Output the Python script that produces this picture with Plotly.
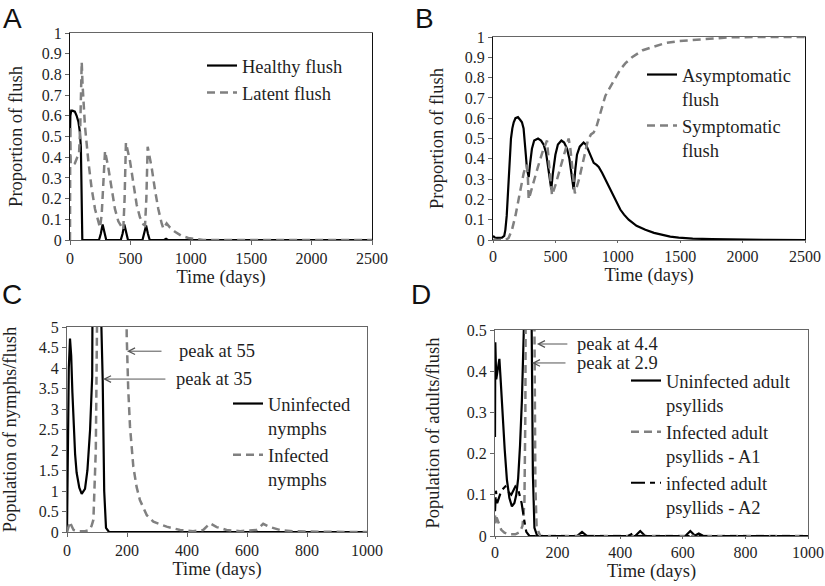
import plotly.graph_objects as go

# ---------------- Panel A ----------------
a_t_healthy = [0, 3, 10, 20, 40, 55, 70, 82, 90, 95, 99, 102, 240, 255, 270, 285, 300,
               420, 435, 450, 465, 480, 600, 615, 630, 645, 660, 780, 795, 810, 2500]
a_healthy = [0.5, 0.6, 0.625, 0.625, 0.62, 0.6, 0.57, 0.52, 0.45, 0.3, 0.1, 0, 0, 0.03, 0.075, 0.03, 0,
             0, 0.03, 0.075, 0.03, 0, 0, 0.03, 0.07, 0.03, 0, 0, 0.006, 0, 0]
a_t_latent = [0, 2, 6, 20, 40, 60, 75, 85, 92, 97, 104, 124, 152, 179, 207, 235, 248, 262, 275, 290,
              317, 345, 372, 400, 428, 441, 452, 463, 497, 524, 552, 579, 607, 621, 632, 643,
              676, 704, 731, 759, 773, 800, 828, 869, 924, 979, 1048, 1103, 2500]
a_latent = [0, 0.55, 0.37, 0.36, 0.37, 0.4, 0.42, 0.55, 0.75, 0.86, 0.75, 0.55, 0.38, 0.25, 0.15, 0.08, 0.06, 0.12, 0.3, 0.43,
            0.35, 0.24, 0.15, 0.09, 0.06, 0.05, 0.2, 0.47, 0.38, 0.27, 0.17, 0.11, 0.075, 0.07, 0.2, 0.45,
            0.35, 0.24, 0.15, 0.08, 0.055, 0.08, 0.06, 0.04, 0.02, 0.01, 0.004, 0, 0]

# ---------------- Panel B ----------------
b_t_asym = [0, 15, 32, 50, 72, 90, 99, 110, 125, 135, 144, 155, 166, 180, 200, 220, 232, 245, 254, 263, 272, 286,
            298, 312, 330, 361, 385, 406, 425, 446, 458, 467, 480, 500, 520, 548, 570, 593, 612, 628, 646,
            660, 673, 695, 726, 745, 767, 790, 807, 830, 847, 875, 900, 930, 954, 990, 1020, 1050, 1087,
            1150, 1221, 1290, 1354, 1420, 1488, 1600, 1755, 1900, 2022, 2200, 2500]
b_asym = [0.02, 0.012, 0.01, 0.01, 0.012, 0.02, 0.05, 0.12, 0.3, 0.42, 0.5, 0.55, 0.58, 0.6, 0.605, 0.59, 0.58, 0.55,
          0.5, 0.42, 0.35, 0.31, 0.38, 0.45, 0.49, 0.5, 0.49, 0.47, 0.43, 0.35, 0.29, 0.25, 0.33, 0.42, 0.47, 0.49,
          0.48, 0.45, 0.4, 0.32, 0.25, 0.35, 0.42, 0.46, 0.48, 0.47, 0.44, 0.41, 0.38, 0.37, 0.36, 0.33, 0.3, 0.26,
          0.23, 0.19, 0.15, 0.125, 0.1, 0.07, 0.05, 0.035, 0.025, 0.017, 0.012, 0.007, 0.004, 0.002, 0.001, 0.0005, 0]
b_t_sym = [0, 100, 125, 152, 180, 206, 230, 246, 262, 272, 280, 286, 300, 330, 360, 400, 433, 445, 458, 473,
           500, 540, 580, 606, 620, 640, 656, 690, 720, 760, 785, 807, 830, 847, 873, 900, 927, 954, 980,
           1020, 1060, 1114, 1200, 1274, 1380, 1488, 1675, 1888, 2100, 2500]
b_sym = [0, 0, 0.01, 0.05, 0.12, 0.2, 0.27, 0.33, 0.36, 0.37, 0.3, 0.2, 0.23, 0.3, 0.36, 0.44, 0.49, 0.4, 0.3, 0.22,
         0.27, 0.36, 0.45, 0.5, 0.45, 0.32, 0.23, 0.3, 0.38, 0.49, 0.52, 0.53, 0.56, 0.6, 0.66, 0.71, 0.74, 0.77, 0.8,
         0.84, 0.87, 0.9, 0.935, 0.95, 0.97, 0.98, 0.99, 0.998, 1.0, 1.0]

# ---------------- Panel C ----------------
c_t_uninf = [0, 3, 6, 10, 14, 18, 22, 27, 32, 41, 49, 60, 68, 77, 84, 90, 96, 102, 108, 113, 119, 124, 130, 140, 1000]
c_uninf = [0, 2.0, 4.0, 4.72, 4.3, 3.4, 2.6, 1.9, 1.45, 1.08, 0.93, 1.05, 1.5, 2.5, 3.8, 5.0, 15, 35, 15, 5.5, 3.7, 1.0, 0.1, 0, 0]
c_t_inf = [0, 5, 10, 15, 22, 35, 60, 75, 82, 88, 96, 100, 120, 150, 180, 195, 199, 204, 210, 221, 232, 243,
           266, 288, 332, 377, 420, 454, 477, 499, 532, 577, 632, 654, 677, 710, 754, 850, 1000]
c_inf = [0, 0.1, 0.25, 0.15, 0.05, 0.02, 0.02, 0.05, 0.15, 0.3, 2.0, 5.0, 40, 55, 30, 10, 4.8, 3.5, 2.57, 1.6, 1.1, 0.78,
         0.41, 0.25, 0.13, 0.05, 0.02, 0.05, 0.21, 0.12, 0.05, 0.02, 0.05, 0.2, 0.12, 0.05, 0.02, 0.005, 0]

# ---------------- Panel D ----------------
d_t_uninf = [0, 1, 4, 9, 14, 18, 22, 27, 31, 38, 46, 54, 62, 68, 74, 80, 86, 92, 98, 105, 111, 114, 117, 121, 126, 135,
             262, 278, 294, 448, 464, 480, 608, 624, 640, 1000]
d_uninf = [0.24, 0.47, 0.38, 0.41, 0.43, 0.38, 0.32, 0.25, 0.21, 0.137, 0.092, 0.072, 0.08, 0.1, 0.14, 0.22, 0.33, 0.5,
           1.5, 2.9, 1.5, 0.8, 0.42, 0.15, 0.02, 0, 0, 0.01, 0, 0, 0.012, 0, 0, 0.012, 0, 0]
d_t_a1 = [0, 2, 5, 10, 20, 30, 45, 65, 80, 88, 94, 97, 100, 106, 113, 119, 123, 126, 129, 133, 145, 1000]
d_a1 = [0.05, 0.03, 0.045, 0.035, 0.015, 0.008, 0.004, 0.004, 0.01, 0.025, 0.08, 0.3, 0.6, 2.0, 4.4, 2.0, 0.9, 0.4,
        0.12, 0.02, 0, 0]
d_t_a2 = [0, 3, 7, 12, 20, 33, 45, 52, 65, 75, 85, 93, 100, 110, 425, 440, 455, 636, 651, 666, 1000]
d_a2 = [0.06, 0.11, 0.08, 0.09, 0.11, 0.12, 0.105, 0.1, 0.12, 0.11, 0.08, 0.04, 0.01, 0, 0, 0.006, 0, 0, 0.006, 0, 0]

W, H = 825, 586
SERIF = "Liberation Serif, Times New Roman, Times, serif"
TXT = "#1f1f1f"
GRAY = "#808080"
BLACK = "#000000"
DASH = "8px,5px"
LDASH = "14px,5px,5px,5px"


def px(x0, x1):
    return [x0 / W, x1 / W]


def py(top, bottom):
    return [1 - bottom / H, 1 - top / H]


fig = go.Figure()

def add(x, y, name, color, dash, xa, ya, legend, width=2.2):
    fig.add_trace(go.Scatter(x=x, y=y, mode="lines", name=name,
                             line=dict(color=color, width=width, dash=dash),
                             xaxis=xa, yaxis=ya, legend=legend))

add(a_t_healthy, a_healthy, "Healthy flush", BLACK, "solid", "x", "y", "legend")
add(a_t_latent, a_latent, "Latent flush", GRAY, DASH, "x", "y", "legend", 2.5)
add(b_t_asym, b_asym, "Asymptomatic<br>flush", BLACK, "solid", "x2", "y2", "legend2")
add(b_t_sym, b_sym, "Symptomatic<br>flush", GRAY, DASH, "x2", "y2", "legend2", 2.5)
add(c_t_uninf, c_uninf, "Uninfected<br>nymphs", BLACK, "solid", "x3", "y3", "legend3")
add(c_t_inf, c_inf, "Infected<br>nymphs", GRAY, DASH, "x3", "y3", "legend3", 2.5)
add(d_t_uninf, d_uninf, "Uninfected adult<br>psyllids", BLACK, "solid", "x4", "y4", "legend4")
add(d_t_a1, d_a1, "Infected adult<br>psyllids - A1", GRAY, DASH, "x4", "y4", "legend4", 2.5)
add(d_t_a2, d_a2, "infected adult<br>psyllids - A2", BLACK, LDASH, "x4", "y4", "legend4")


def axis(domain, rng, dtick, title, standoff, anchor, linecolor="#666666", ticklen=4):
    return dict(domain=domain, range=rng, dtick=dtick, anchor=anchor,
                showgrid=False, zeroline=False, showline=True, mirror=True,
                linecolor=linecolor, linewidth=1, ticks="outside", ticklen=ticklen,
                tickcolor="#666666", automargin=False, fixedrange=True,
                tickfont=dict(family=SERIF, size=16, color=TXT),
                title=dict(text=title, standoff=standoff,
                           font=dict(family=SERIF, size=18.5, color=TXT)))


fig.update_layout(
    width=W, height=H, margin=dict(l=0, r=0, t=0, b=0),
    paper_bgcolor="white", plot_bgcolor="white",
    xaxis=axis(px(70, 372), [0, 2500], 500, "Time (days)", 2, "y"),
    yaxis=axis(py(33, 240), [0, 1], 0.1, "Proportion of flush", 14, "x", "#111111"),
    xaxis2=axis(px(493, 805), [0, 2500], 500, "Time (days)", 0, "y2", ticklen=2),
    yaxis2=axis(py(37, 240), [0, 1], 0.1, "Proportion of flush", 16, "x2", "#111111"),
    xaxis3=axis(px(67, 367), [0, 1000], 200, "Time (days)", 0, "y3"),
    yaxis3=axis(py(327, 532), [0, 5], 0.5, "Population of nymphs/flush", 22, "x3"),
    xaxis4=axis(px(495, 808), [0, 1000], 200, "Time (days)", 0, "y4", ticklen=2),
    yaxis4=axis(py(330, 536), [0, 0.5], 0.1, "Population of adults/flush", 22, "x4"),
)

legend_common = dict(bgcolor="rgba(0,0,0,0)", borderwidth=0, xanchor="left", yanchor="top",
                     font=dict(family=SERIF, size=18.5, color=TXT), valign="top",
                     tracegroupgap=0, itemclick=False, itemdoubleclick=False)
fig.update_layout(
    showlegend=True,
    legend=dict(x=202 / W, y=1 - 47 / H, **legend_common),
    legend2=dict(x=642 / W, y=1 - 56 / H, **legend_common),
    legend3=dict(x=228 / W, y=1 - 385 / H, **legend_common),
    legend4=dict(x=626 / W, y=1 - 362 / H, **legend_common),
)

ann_font = dict(family=SERIF, size=18.5, color=TXT)
arrows = [
    ("x3", "y3", 200, 4.41, 320, 4.41),
    ("x3", "y3", 120, 3.73, 333, 3.73),
    ("x4", "y4", 134, 0.466, 236, 0.466),
    ("x4", "y4", 118, 0.42, 230, 0.42),
]
for xr, yr, x, y, ax, ay in arrows:
    fig.add_annotation(xref=xr, yref=yr, x=x, y=y, ax=ax, ay=ay, axref=xr, ayref=yr,
                       text="", showarrow=True, arrowhead=5, arrowsize=1.3, arrowwidth=1,
                       arrowcolor="#555555")
labels = [
    ("x3", "y3", 365, 4.41, "peak at 55"),
    ("x3", "y3", 358, 3.73, "peak at 35"),
    ("x4", "y4", 254, 0.466, "peak at 4.4"),
    ("x4", "y4", 254, 0.42, "peak at 2.9"),
]
for xr, yr, x, y, t in labels:
    fig.add_annotation(xref=xr, yref=yr, x=x, y=y, text=t, showarrow=False,
                       xanchor="left", yanchor="middle", font=ann_font)

for letter, xc, yc in [("A", 12, 18), ("B", 424, 18), ("C", 12, 294), ("D", 421, 294)]:
    fig.add_annotation(xref="paper", yref="paper", x=xc / W, y=1 - yc / H, text=letter,
                       showarrow=False, xanchor="center", yanchor="middle",
                       font=dict(family="Liberation Sans, Arial, sans-serif", size=28, color="#111111"))

fig.write_html("out.html", config={"displayModeBar": False, "staticPlot": True},
               post_script="document.body.style.margin='0';document.body.style.padding='0';"
                           "document.documentElement.style.overflow='hidden';")
